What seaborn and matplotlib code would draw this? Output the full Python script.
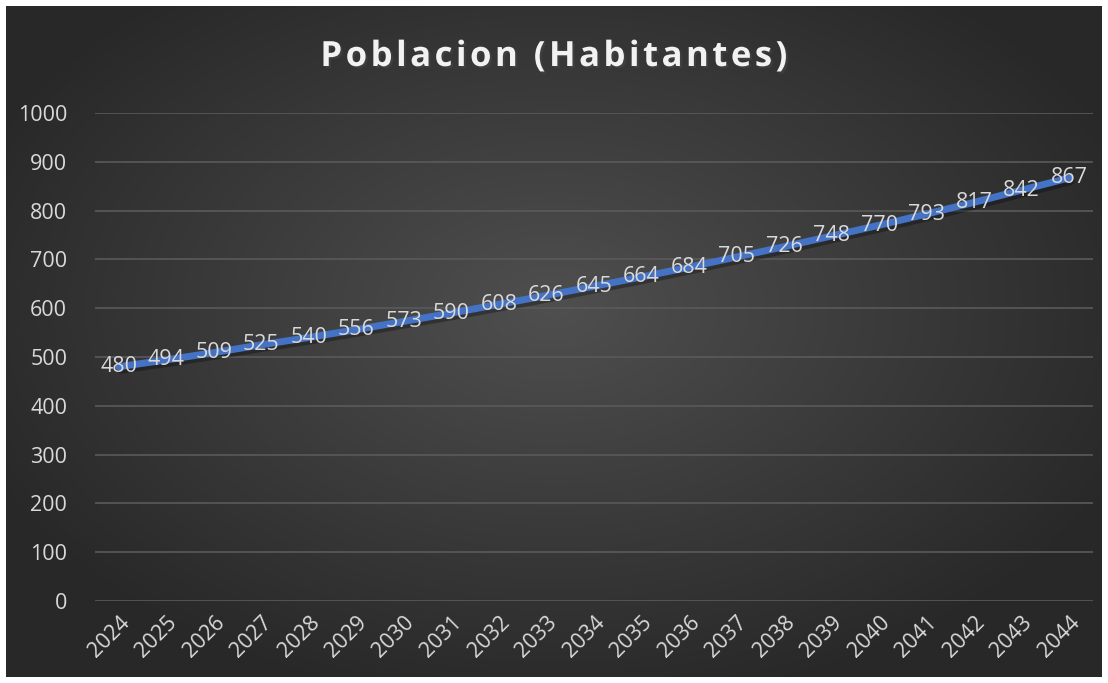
import numpy as np
import pandas as pd
import matplotlib
matplotlib.use("Agg")
import matplotlib.pyplot as plt
import matplotlib.patheffects as pe
import seaborn as sns

# ── data ────────────────────────────────────────────────
years = list(range(2024, 2045))
population = [480, 494, 509, 525, 540, 556, 573, 590, 608, 626, 645,
              664, 684, 705, 726, 748, 770, 793, 817, 842, 867]
y_ticks = [0, 100, 200, 300, 400, 500, 600, 700, 800, 900, 1000]

TITLE = "Poblacion (Habitantes)"
TEXT = "#d9d9d9"
LINE = "#4472c4"

sns.set_style("white")
plt.rcParams["font.family"] = ["Open Sans", "DejaVu Sans"]

df = pd.DataFrame({"Año": years, "Poblacion": population})

W, H = 1108, 683
fig = plt.figure(figsize=(W / 100, H / 100), dpi=100, facecolor="white")

# ── dark radial-gradient panel ──────────────────────────
bg = fig.add_axes([6 / W, 6 / H, 1096 / W, 671 / H])
gx, gy = np.meshgrid(np.linspace(-1, 1, 400), np.linspace(-1, 1, 250))
r = np.sqrt((gx * 0.95) ** 2 + ((gy + 0.1) * 0.9) ** 2)
shade = np.clip(0.31 - 0.14 * r, 0.16, 0.31)
bg.imshow(np.dstack([shade] * 3), aspect="auto", extent=[0, 1, 0, 1])
bg.set_axis_off()

# ── main axes ───────────────────────────────────────────
ax = fig.add_axes([95 / W, (H - 601) / H, (1093 - 95) / W, (601 - 113) / H])
ax.patch.set_alpha(0)

sns.lineplot(data=df, x="Año", y="Poblacion", ax=ax, color=LINE,
             linewidth=5, solid_capstyle="round",
             path_effects=[pe.SimpleLineShadow(offset=(1.5, -2.5), alpha=0.3,
                                               shadow_color="black"),
                           pe.Normal()])

for x, y in zip(years, population):
    ax.text(x, y, str(y), ha="center", va="center", color=TEXT,
            fontsize=15.5, zorder=5)

ax.set_xlim(years[0] - 0.5, years[-1] + 0.5)
ax.set_ylim(0, 1000)
ax.set_yticks(y_ticks)
ax.set_xticks(years)
ax.set_xticklabels([str(y) for y in years], rotation=45, ha="right",
                   rotation_mode="anchor")
ax.tick_params(axis="both", colors=TEXT, labelsize=15.5, length=0)
ax.tick_params(axis="y", pad=20)
ax.tick_params(axis="x", pad=8)
ax.grid(axis="y", color="#5a5a5a", linewidth=1.2)
ax.grid(axis="x", visible=False)
ax.set_xlabel("")
ax.set_ylabel("")
sns.despine(ax=ax, left=True, bottom=True)

# letter-spaced title
fig.text(0.5, 1 - 57 / H, "\u200a".join(TITLE), ha="center",
         va="center", color="#f2f2f2", fontsize=25, fontweight="bold",
         path_effects=[pe.withSimplePatchShadow(offset=(1.5, -1.5),
                                                alpha=0.5)])

fig.savefig("out.png", dpi=100, facecolor="white")
